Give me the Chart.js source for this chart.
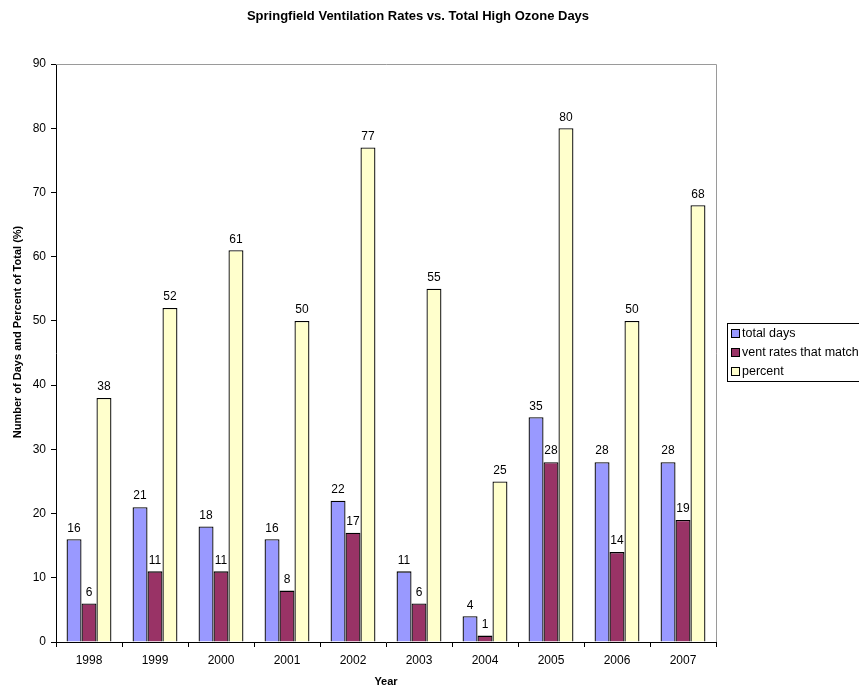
<!DOCTYPE html>
<html>
<head>
<meta charset="utf-8">
<script src="https://cdn.jsdelivr.net/npm/chart.js@4/dist/chart.umd.min.js"></script>
<style>
  html, body { margin: 0; padding: 0; background: #fff; }
  #wrap { width: 859px; height: 689px; position: relative; }
</style>
</head>
<body>
<div id="wrap"><canvas id="c" width="859" height="689"></canvas></div>
<script>
const years = ['1998', '1999', '2000', '2001', '2002', '2003', '2004', '2005', '2006', '2007'];
const totalDays = [16, 21, 18, 16, 22, 11, 4, 35, 28, 28];
const ventMatch = [6, 11, 11, 8, 17, 6, 1, 28, 14, 19];
const percentOfTotal = [38, 52, 61, 50, 77, 55, 25, 80, 50, 68];
const seriesNames = ['total days', 'vent rates that match', 'percent'];

const FONT = 'Liberation Sans, Arial, Helvetica, sans-serif';

// Value labels above each bar
const valueLabels = {
  id: 'valueLabels',
  afterDatasetsDraw(chart) {
    const ctx = chart.ctx;
    ctx.save();
    ctx.font = '12px ' + FONT;
    ctx.fillStyle = '#000';
    ctx.textAlign = 'center';
    ctx.textBaseline = 'bottom';
    chart.data.datasets.forEach((ds, i) => {
      chart.getDatasetMeta(i).data.forEach((bar, j) => {
        ctx.fillText(String(ds.data[j]), bar.x, bar.y - 5);
      });
    });
    ctx.restore();
  }
};

// Plot-area frame, titles and boxed legend
const frame = {
  id: 'frame',
  beforeDatasetsDraw(chart) {
    const { ctx, chartArea: a } = chart;
    ctx.save();
    ctx.strokeStyle = '#9a9a9a';
    ctx.lineWidth = 1;
    ctx.beginPath();
    ctx.moveTo(a.left, a.top + 0.5);
    ctx.lineTo(a.right + 0.5, a.top + 0.5);
    ctx.lineTo(a.right + 0.5, a.bottom);
    ctx.stroke();
    ctx.restore();
  },
  afterDraw(chart) {
    const ctx = chart.ctx;
    ctx.save();
    ctx.fillStyle = '#000';
    ctx.font = 'bold 13px ' + FONT;
    ctx.textAlign = 'center';
    ctx.textBaseline = 'middle';
    ctx.fillText('Springfield Ventilation Rates vs. Total High Ozone Days', 418, 16);

    // y-axis title
    ctx.save();
    ctx.translate(18, 332);
    ctx.rotate(-Math.PI / 2);
    ctx.font = 'bold 11px ' + FONT;
    ctx.fillText('Number of Days and Percent of Total (%)', 0, 0);
    ctx.restore();

    // legend
    const lx = 727.5, ly = 323.5, lw = 140, lh = 58;
    ctx.strokeStyle = '#000';
    ctx.lineWidth = 1;
    ctx.strokeRect(lx, ly, lw, lh);
    ctx.font = '12.5px ' + FONT;
    ctx.textAlign = 'left';
    chart.data.datasets.forEach((ds, i) => {
      const cy = 334 + i * 19;
      ctx.fillStyle = ds.backgroundColor;
      ctx.fillRect(731.5, cy - 4.5, 8, 8);
      ctx.strokeRect(731.5, cy - 4.5, 8, 8);
      ctx.fillStyle = '#000';
      ctx.fillText(ds.label, 742, cy);
    });
    ctx.restore();
  }
};

new Chart(document.getElementById('c'), {
  type: 'bar',
  data: {
    labels: years,
    datasets: [
      { label: seriesNames[0], data: totalDays, backgroundColor: '#9999FF', borderColor: '#000', borderWidth: 1.3 },
      { label: seriesNames[1], data: ventMatch, backgroundColor: '#993366', borderColor: '#000', borderWidth: 1.3 },
      { label: seriesNames[2], data: percentOfTotal, backgroundColor: '#FFFFCC', borderColor: '#000', borderWidth: 1.3 }
    ]
  },
  options: {
    responsive: false,
    animation: false,
    layout: { padding: { top: 64, right: 143, left: 0, bottom: 0 } },
    datasets: { bar: { categoryPercentage: 0.68, barPercentage: 1.0 } },
    plugins: {
      legend: { display: false },
      title: { display: false },
      tooltip: { enabled: false }
    },
    scales: {
      x: {
        offset: true,
        grid: { offset: true, drawOnChartArea: false, drawTicks: true, tickLength: 5, color: '#000' },
        border: { display: true, color: '#000' },
        ticks: { color: '#000', font: { family: FONT, size: 12 }, padding: 6, maxRotation: 0 },
        title: { display: true, text: 'Year', color: '#000', font: { family: FONT, size: 11, weight: 'bold' }, padding: { top: 4, bottom: 0 } },
        afterFit(scale) { scale.height = 47; }
      },
      y: {
        min: 0, max: 90,
        ticks: { stepSize: 10, color: '#000', font: { family: FONT, size: 12 }, padding: 5 },
        grid: { drawOnChartArea: false, drawTicks: true, tickLength: 5, color: '#000' },
        border: { display: true, color: '#000' },
        title: { display: false },
        afterFit(scale) { scale.width = 56; }
      }
    }
  },
  plugins: [frame, valueLabels]
});
</script>
</body>
</html>
